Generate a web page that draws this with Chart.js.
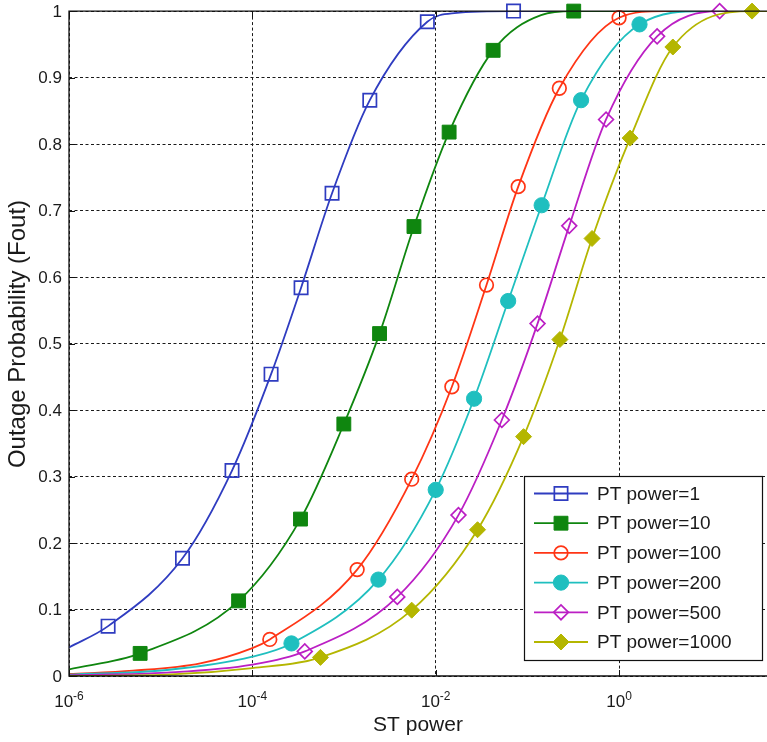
<!DOCTYPE html>
<html>
<head>
<meta charset="utf-8">
<script src="https://cdn.jsdelivr.net/npm/chart.js@4.4.1/dist/chart.umd.min.js"></script>
<style>
  html, body { margin: 0; padding: 0; background: #fff; overflow: hidden; }
  #moldura { width: 767px; height: 742px; position: relative; overflow: hidden; }
</style>
</head>
<body>
<div id="moldura"><canvas id="grafico" width="779" height="742"></canvas></div>
<script>

// eixos
const xMinimo = 1e-6;
const xMaximo = 42;
const xTicks = [1e-6, 1e-4, 1e-2, 1];
const xTickExpoentes = ['-6', '-4', '-2', '0'];
const yTicks = [0, 0.1, 0.2, 0.3, 0.4, 0.5, 0.6, 0.7, 0.8, 0.9, 1];
const yTickTextos = ['0', '0.1', '0.2', '0.3', '0.4', '0.5', '0.6', '0.7', '0.8', '0.9', '1'];
const tituloX = 'ST power';
const tituloY = 'Outage Probability (Fout)';

const legendas = ['PT power=1', 'PT power=10', 'PT power=100', 'PT power=200', 'PT power=500', 'PT power=1000'];

// PT power = 1 : marcadores e pontos extras da curva
const pt1X = [2.67e-6, 1.73e-5, 6.0e-5, 1.6e-4, 3.4e-4, 7.4e-4, 1.91e-3, 8.1e-3, 7.06e-2];
const pt1Y = [0.075, 0.177, 0.309, 0.454, 0.584, 0.726, 0.866, 0.984, 1.0];
const pt1CurvaX = [1e-6, 1.6e-2, 42];
const pt1CurvaY = [0.043, 0.997, 1.0];

// PT power = 10
const pt10X = [5.97e-6, 7.08e-5, 3.35e-4, 9.95e-4, 2.44e-3, 5.79e-3, 1.40e-2, 4.23e-2, 0.32];
const pt10Y = [0.034, 0.113, 0.236, 0.379, 0.515, 0.676, 0.818, 0.941, 1.0];
const pt10CurvaX = [1e-6, 0.141, 42];
const pt10CurvaY = [0.010, 0.994, 1.0];

// PT power = 100
const pt100X = [1.55e-4, 1.39e-3, 5.47e-3, 1.50e-2, 3.58e-2, 7.94e-2, 0.223, 1.0];
const pt100Y = [0.055, 0.160, 0.296, 0.435, 0.588, 0.736, 0.884, 0.990];
const pt100CurvaX = [1e-6, 5e-6, 2.7e-5, 1e-4, 3.1, 42];
const pt100CurvaY = [0.003, 0.008, 0.019, 0.042, 1.0, 1.0];

// PT power = 200
const pt200X = [2.67e-4, 2.37e-3, 1.0e-2, 2.62e-2, 6.17e-2, 0.143, 0.385, 1.67];
const pt200Y = [0.049, 0.145, 0.280, 0.417, 0.564, 0.708, 0.866, 0.980];
const pt200CurvaX = [1e-6, 1.17e-5, 1e-4, 8.5, 42];
const pt200CurvaY = [0.002, 0.009, 0.029, 1.0, 1.0];

// PT power = 500
const pt500X = [3.73e-4, 3.81e-3, 1.77e-2, 5.26e-2, 0.129, 0.286, 0.721, 2.60, 12.5];
const pt500Y = [0.037, 0.119, 0.242, 0.385, 0.530, 0.677, 0.837, 0.962, 1.0];
const pt500CurvaX = [1e-6, 1.17e-5, 1e-4, 42];
const pt500CurvaY = [0.001, 0.005, 0.017, 1.0];

// PT power = 1000
const pt1000X = [5.53e-4, 5.47e-3, 2.86e-2, 9.08e-2, 0.226, 0.507, 1.32, 3.86, 28.2];
const pt1000Y = [0.028, 0.099, 0.220, 0.360, 0.506, 0.658, 0.809, 0.946, 1.0];
const pt1000CurvaX = [1e-6, 1.17e-5, 1e-4, 42];
const pt1000CurvaY = [0.0, 0.002, 0.012, 1.0];


const FONTE = '"Liberation Sans", Arial, Helvetica, sans-serif';

const series = [
    { nome: legendas[0], cor: '#2f3cc0', estilo: 'rect',    cheio: false, raio: 9.4, x: pt1X,    y: pt1Y,    cx: pt1CurvaX,    cy: pt1CurvaY },
    { nome: legendas[1], cor: '#0f860f', estilo: 'rect',    cheio: true,  raio: 9.8, x: pt10X,   y: pt10Y,   cx: pt10CurvaX,   cy: pt10CurvaY },
    { nome: legendas[2], cor: '#ff3515', estilo: 'circle',  cheio: false, raio: 6.8, x: pt100X,  y: pt100Y,  cx: pt100CurvaX,  cy: pt100CurvaY },
    { nome: legendas[3], cor: '#1fbfbf', estilo: 'circle',  cheio: true,  raio: 7.6, x: pt200X,  y: pt200Y,  cx: pt200CurvaX,  cy: pt200CurvaY },
    { nome: legendas[4], cor: '#bb1fc4', estilo: 'rectRot', cheio: false, raio: 7.4, x: pt500X,  y: pt500Y,  cx: pt500CurvaX,  cy: pt500CurvaY },
    { nome: legendas[5], cor: '#b4b600', estilo: 'rectRot', cheio: true,  raio: 8,   x: pt1000X, y: pt1000Y, cx: pt1000CurvaX, cy: pt1000CurvaY }
];


//Junta marcadores e pontos extras numa curva ordenada por x
function montar_curva(s){
    let pontos = s.x.map((v, i) => ({ x: v, y: s.y[i] }));
    s.cx.forEach((v, i) => pontos.push({ x: v, y: s.cy[i] }));
    pontos.sort((a, b) => a.x - b.x);
    return pontos;
}

let datasets = [];
series.forEach((s, i) => {
    //curva
    datasets.push({
        label: s.nome,
        data: montar_curva(s),
        showLine: true,
        borderColor: s.cor,
        borderWidth: 1.8,
        pointRadius: 0,
        pointHoverRadius: 0,
        cubicInterpolationMode: 'monotone',
        order: 20 - i * 2
    });
    //marcadores
    datasets.push({
        label: s.nome + ' (marcadores)',
        data: s.x.map((v, k) => ({ x: v, y: s.y[k] })),
        showLine: false,
        pointStyle: s.estilo,
        pointRadius: s.raio,
        pointHoverRadius: s.raio,
        pointBorderWidth: s.cheio ? 1 : 1.7,
        pointBorderColor: s.cor,
        pointBackgroundColor: s.cheio ? s.cor : 'rgba(0,0,0,0)',
        clip: false,
        order: 19 - i * 2
    });
});


//Desenha um marcador igual aos do chart.js (usado na legenda)
function desenhar_marcador(ctx, s, x, y){
    ctx.save();
    ctx.beginPath();
    const r = s.raio;
    if (s.estilo == 'rect') {
        const m = r * Math.SQRT1_2;
        ctx.rect(x - m, y - m, 2 * m, 2 * m);
    } else if (s.estilo == 'circle') {
        ctx.arc(x, y, r, 0, Math.PI * 2);
    } else {
        ctx.moveTo(x - r, y);
        ctx.lineTo(x, y - r);
        ctx.lineTo(x + r, y);
        ctx.lineTo(x, y + r);
        ctx.closePath();
    }
    if (s.cheio) {
        ctx.fillStyle = s.cor;
        ctx.fill();
    }
    ctx.lineWidth = s.cheio ? 1 : 1.7;
    ctx.strokeStyle = s.cor;
    ctx.stroke();
    ctx.restore();
}


//***********************
//Moldura, textos dos eixos e legenda
//***********************
const pluginMoldura = {
    id: 'moldura',
    afterDraw(chart){
        const ctx = chart.ctx;
        const area = chart.chartArea;
        const escalaX = chart.scales.x;
        const escalaY = chart.scales.y;

        ctx.save();

        //caixa dos eixos (o lado direito fica fora do quadro)
        ctx.strokeStyle = '#111';
        ctx.lineWidth = 1.3;
        ctx.beginPath();
        ctx.moveTo(chart.width, area.top);
        ctx.lineTo(area.left, area.top);
        ctx.lineTo(area.left, area.bottom);
        ctx.lineTo(chart.width, area.bottom);
        ctx.stroke();

        //marcas dos ticks
        ctx.lineWidth = 1;
        ctx.beginPath();
        xTicks.forEach(v => {
            const px = Math.round(escalaX.getPixelForValue(v)) + 0.5;
            ctx.moveTo(px, area.bottom);
            ctx.lineTo(px, area.bottom - 6);
            ctx.moveTo(px, area.top);
            ctx.lineTo(px, area.top + 6);
        });
        yTicks.forEach(v => {
            const py = Math.round(escalaY.getPixelForValue(v)) + 0.5;
            ctx.moveTo(area.left, py);
            ctx.lineTo(area.left + 6, py);
        });
        ctx.stroke();

        //textos do eixo y
        ctx.fillStyle = '#1a1a1a';
        ctx.font = '17px ' + FONTE;
        ctx.textAlign = 'right';
        ctx.textBaseline = 'middle';
        yTicks.forEach((v, i) => {
            ctx.fillText(yTickTextos[i], area.left - 7, escalaY.getPixelForValue(v) + 1);
        });

        //textos do eixo x (10 com expoente)
        ctx.textBaseline = 'alphabetic';
        ctx.textAlign = 'left';
        xTicks.forEach((v, i) => {
            const px = escalaX.getPixelForValue(v);
            ctx.font = '17px ' + FONTE;
            const larguraBase = ctx.measureText('10').width;
            ctx.font = '12px ' + FONTE;
            const larguraExp = ctx.measureText(xTickExpoentes[i]).width;
            const inicio = px - (larguraBase + larguraExp) / 2;
            ctx.font = '17px ' + FONTE;
            ctx.fillText('10', inicio, area.bottom + 31);
            ctx.font = '12px ' + FONTE;
            ctx.fillText(xTickExpoentes[i], inicio + larguraBase, area.bottom + 24);
        });

        //títulos
        ctx.font = '21px ' + FONTE;
        ctx.textAlign = 'center';
        ctx.fillText(tituloX, 418, area.bottom + 55);

        ctx.save();
        ctx.translate(25, 334);
        ctx.rotate(-Math.PI / 2);
        ctx.font = '24px ' + FONTE;
        ctx.fillText(tituloY, 0, 0);
        ctx.restore();

        //legenda
        const caixa = { x: 524, y: 476, w: 238, h: 184 };
        ctx.fillStyle = '#fff';
        ctx.fillRect(caixa.x, caixa.y, caixa.w, caixa.h);
        ctx.strokeStyle = '#111';
        ctx.lineWidth = 1.2;
        ctx.strokeRect(caixa.x + 0.5, caixa.y + 0.5, caixa.w, caixa.h);

        ctx.font = '19px ' + FONTE;
        ctx.textAlign = 'left';
        ctx.textBaseline = 'middle';
        series.forEach((s, i) => {
            const cy = caixa.y + 17.5 + i * 29.7;
            ctx.strokeStyle = s.cor;
            ctx.lineWidth = 1.8;
            ctx.beginPath();
            ctx.moveTo(caixa.x + 10, cy);
            ctx.lineTo(caixa.x + 64, cy);
            ctx.stroke();
            desenhar_marcador(ctx, s, caixa.x + 37, cy);
            ctx.fillStyle = '#1a1a1a';
            ctx.fillText(s.nome, caixa.x + 73, cy + 1);
        });

        ctx.restore();
    }
};


new Chart(document.getElementById('grafico').getContext('2d'), {
    type: 'scatter',
    data: { datasets: datasets },
    options: {
        responsive: false,
        animation: false,
        events: [],
        layout: { padding: { left: 69, top: 11, right: 0, bottom: 66 } },
        plugins: {
            legend: { display: false },
            tooltip: { enabled: false }
        },
        scales: {
            x: {
                type: 'logarithmic',
                min: xMinimo,
                max: xMaximo,
                afterBuildTicks: escala => { escala.ticks = xTicks.map(v => ({ value: v })); },
                ticks: { display: false },
                grid: { color: '#1a1a1a', lineWidth: 1, drawTicks: false },
                border: { display: false, dash: [3, 2.5] }
            },
            y: {
                type: 'linear',
                min: 0,
                max: 1,
                afterBuildTicks: escala => { escala.ticks = yTicks.map(v => ({ value: v })); },
                ticks: { display: false },
                grid: { color: '#1a1a1a', lineWidth: 1, drawTicks: false },
                border: { display: false, dash: [3, 2.5] }
            }
        }
    },
    plugins: [pluginMoldura]
});
</script>
</body>
</html>
